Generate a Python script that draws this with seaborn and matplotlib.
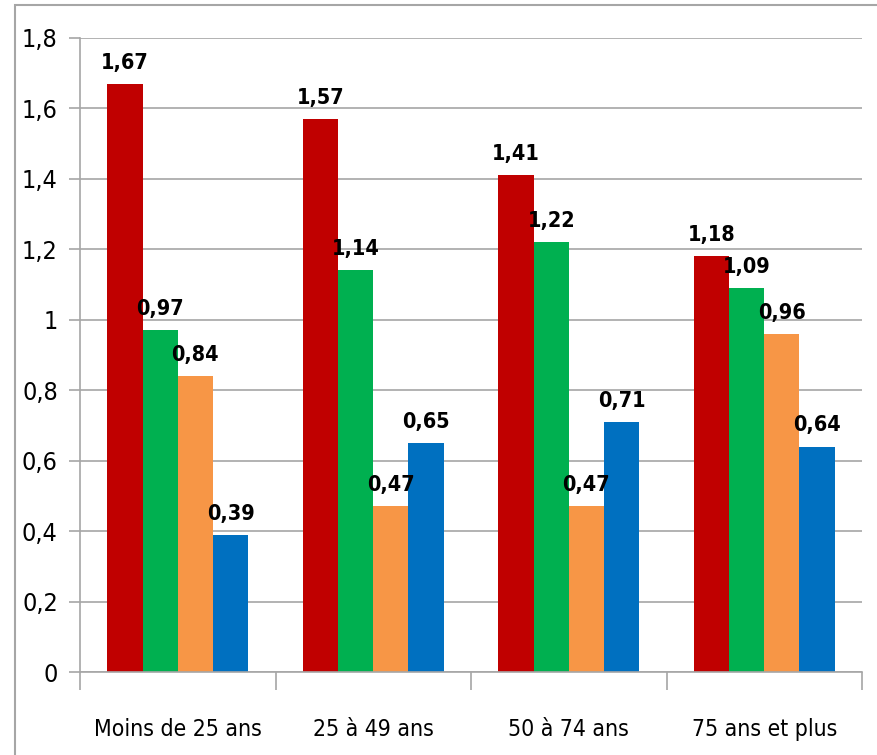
import pandas as pd
import matplotlib.pyplot as plt
import seaborn as sns
from matplotlib.patches import Rectangle
from matplotlib import font_manager

categories = ["Moins de 25 ans", "25 à 49 ans", "50 à 74 ans", "75 ans et plus"]
series = ["Série 1", "Série 2", "Série 3", "Série 4"]
serie_1 = [1.67, 1.57, 1.41, 1.18]
serie_2 = [0.97, 1.14, 1.22, 1.09]
serie_3 = [0.84, 0.47, 0.47, 0.96]
serie_4 = [0.39, 0.65, 0.71, 0.64]
colors = ["#C00000", "#00B050", "#F79646", "#0070C0"]
y_ticks = [0, 0.2, 0.4, 0.6, 0.8, 1, 1.2, 1.4, 1.6, 1.8]

rows = []
for s, vals in zip(series, [serie_1, serie_2, serie_3, serie_4]):
    for c, v in zip(categories, vals):
        rows.append({"categorie": c, "serie": s, "valeur": v})
df = pd.DataFrame(rows)

sns.set_style("white")
# a condensed face looks closer to the original Calibri text
condensed = [f for f in font_manager.fontManager.ttflist
             if f.name == "DejaVu Sans" and "condensed" in str(f.stretch)]
if condensed:
    plt.rcParams["font.family"] = ["DejaVu Sans"]
    plt.rcParams["font.stretch"] = "condensed"
    size_scale = 1.0
else:
    plt.rcParams["font.family"] = ["Liberation Sans", "DejaVu Sans"]
    size_scale = 0.95
plt.rcParams["text.color"] = "black"
plt.rcParams["xtick.labelcolor"] = "black"
plt.rcParams["ytick.labelcolor"] = "black"

fig = plt.figure(figsize=(8.78, 7.55), dpi=100)
ax = fig.add_axes([80 / 878, 1 - 672 / 755, 782 / 878, 634 / 755])

sns.barplot(data=df, x="categorie", y="valeur", hue="serie", palette=colors,
            width=0.72, gap=0, saturation=1, linewidth=0, legend=False, ax=ax)

for container in ax.containers:
    labels = [f"{b.get_height():.2f}".replace(".", ",") for b in container]
    ax.bar_label(container, labels=labels, padding=8, color="black",
                 fontsize=15.5 * size_scale, fontweight="bold")

ax.set_ylim(0, 1.8)
ax.set_xlim(-0.5, 3.5)
ax.set_yticks(y_ticks)
ax.set_yticklabels([str(t).replace(".", ",") if t not in (0, 1) else str(int(t)) for t in y_ticks],
                   fontsize=18 * size_scale)
ax.yaxis.grid(True, color="#A6A6A6", linewidth=1.2)
ax.set_axisbelow(True)
ax.set_xlabel("")
ax.set_ylabel("")
ax.set_xticks(range(4))
ax.set_xticklabels(categories)
ax.tick_params(axis="x", length=0, labelsize=16.5 * size_scale, pad=33)
ax.tick_params(axis="y", length=8, color="#A6A6A6", width=1.2, left=True, pad=8)
ax.set_xticks([-0.5, 0.5, 1.5, 2.5, 3.5], minor=True)
ax.tick_params(axis="x", which="minor", length=13, color="#A6A6A6", width=1.2, bottom=True)

for side in ["top", "right"]:
    ax.spines[side].set_visible(False)
for side in ["left", "bottom"]:
    ax.spines[side].set_color("#A6A6A6")
    ax.spines[side].set_linewidth(1.2)

fig.patches.append(Rectangle((15 / 878, -0.05), 1.1, 1 - 5 / 755 + 0.05,
                             transform=fig.transFigure, fill=False,
                             edgecolor="#A6A6A6", linewidth=1.5))

fig.savefig("out.png", dpi=100)
